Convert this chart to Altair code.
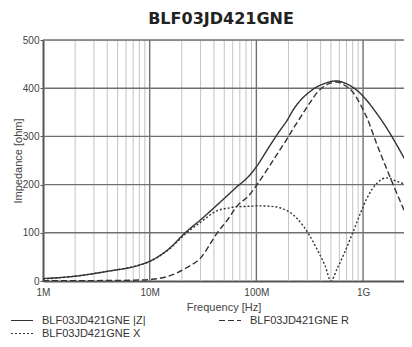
import json
import altair as alt
import pandas as pd

# ---- data ----
freq_mhz = [1, 2, 4, 8, 10, 15, 22, 30, 43, 57, 63, 87, 100, 134, 166, 194, 220, 240,
            318, 378, 440, 500, 570, 650, 800, 935, 1090, 1350, 1670, 2000, 2870]
z_mag = [5, 10, 20, 33, 41, 66, 102, 127, 158, 183, 192, 220, 237, 281, 312, 333, 354, 366,
         393, 404, 410, 414, 415, 412, 402, 390, 374, 347, 317, 288, 225]
r_res = [0.5, 0.7, 1, 2, 3, 10, 27, 48, 100, 135, 150, 180, 198, 240, 272, 295, 315, 328,
         370, 393, 405, 411, 413, 408, 392, 368, 338, 283, 232, 190, 110]
x_react = [4, 10, 20, 33, 40, 65, 99, 122, 146, 152, 154, 155, 156, 155, 152, 146, 138, 130,
           93, 62, 32, 0, 25, 52, 100, 138, 172, 203, 214, 208, 196]
series_names = ["BLF03JD421GNE |Z|", "BLF03JD421GNE R", "BLF03JD421GNE X"]
# legend order (filled column by column, 2 columns): |Z|, X, R
legend_order = ["BLF03JD421GNE |Z|", "BLF03JD421GNE X", "BLF03JD421GNE R"]
legend_dash = [[1, 0], [2, 2], [6, 3]]

x_ticks = [1e6, 1e7, 1e8, 1e9]
x_tick_labels = ["1M", "10M", "100M", "1G"]
x_major = [1e7, 1e8, 1e9]
x_minor = [2e6, 3e6, 4e6, 5e6, 6e6, 7e6, 8e6, 9e6,
           2e7, 3e7, 4e7, 5e7, 6e7, 7e7, 8e7, 9e7,
           2e8, 3e8, 4e8, 5e8, 6e8, 7e8, 8e8, 9e8,
           2e9]
y_ticks = [0, 100, 200, 300, 400, 500]
y_grid = [100, 200, 300, 400, 500]

rows = []
for name, vals in zip(series_names, [z_mag, r_res, x_react]):
    for f, v in zip(freq_mhz, vals):
        rows.append({"freq": f * 1e6, "imp": v, "series": name})
df = pd.DataFrame(rows)

AX_FONT = "Liberation Sans, Arial, sans-serif"
TXT = "#444444"

xscale = alt.Scale(type="log", domain=[1e6, 2.42e9], nice=False)
yscale = alt.Scale(domain=[0, 500], nice=False, zero=False)

label_expr = json.dumps(x_tick_labels) + "[round(log(datum.value)/LN10) - 6]"
xaxis = alt.Axis(values=x_ticks, labelExpr=label_expr, grid=False, ticks=False,
                 labelFlush=False, domainColor="#555555", domainWidth=2,
                 labelFont=AX_FONT, labelFontSize=10, labelColor=TXT, labelPadding=6,
                 title="Frequency [Hz]", titleFont=AX_FONT, titleFontSize=11,
                 titleFontWeight="normal", titleColor=TXT, titlePadding=4)
yaxis = alt.Axis(values=y_ticks, grid=False, tickSize=3, tickColor="#555555",
                 domainColor="#555555", domainWidth=2,
                 labelFont=AX_FONT, labelFontSize=10, labelColor=TXT, labelPadding=1,
                 title="Impedance [ohm]", titleFont=AX_FONT, titleFontSize=11,
                 titleFontWeight="normal", titleColor=TXT, titlePadding=-1)

minor = alt.Chart(pd.DataFrame({"f": x_minor})).mark_rule(
    color="#c4c4c4", strokeWidth=1, clip=True).encode(
    x=alt.X("f:Q", scale=xscale, axis=xaxis))
major = alt.Chart(pd.DataFrame({"f": x_major})).mark_rule(
    color="#707070", strokeWidth=1.4).encode(
    x=alt.X("f:Q", scale=xscale, axis=xaxis))
hgrid = alt.Chart(pd.DataFrame({"v": y_grid})).mark_rule(
    color="#707070", strokeWidth=1.4).encode(
    y=alt.Y("v:Q", scale=yscale, axis=yaxis))

lines = alt.Chart(df).mark_line(color="#333333", strokeWidth=1.4,
                                interpolate="monotone", clip=True).encode(
    x=alt.X("freq:Q", scale=xscale, axis=xaxis),
    y=alt.Y("imp:Q", scale=yscale, axis=yaxis),
    strokeDash=alt.StrokeDash(
        "series:N",
        scale=alt.Scale(domain=legend_order, range=legend_dash),
        sort=legend_order,
        legend=alt.Legend(title=None, orient="none", legendX=-33, legendY=274,
                          columns=2, columnPadding=72, rowPadding=0, clipHeight=13,
                          symbolType="M-1,0L1,0", symbolSize=484,
                          symbolStrokeColor="#333333", symbolStrokeWidth=1.2,
                          symbolFillColor="transparent",
                          labelFont=AX_FONT, labelFontSize=11, labelColor="#333333",
                          labelOffset=8, labelLimit=300)),
    detail="series:N",
)

chart = alt.layer(minor, major, hgrid, lines).properties(
    width=361, height=241,
    autosize=alt.AutoSizeParams(type="none"),
    padding={"left": 35, "top": 32, "right": 0, "bottom": 58},
    title=alt.Title("BLF03JD421GNE", font="DejaVu Sans", fontSize=16,
                    fontWeight="bold", color="#222222", anchor="middle",
                    dx=-2.5, offset=8),
).configure_view(stroke=None).configure(background="white")

chart.save("out.html", embed_options={"renderer": "svg", "actions": False})
